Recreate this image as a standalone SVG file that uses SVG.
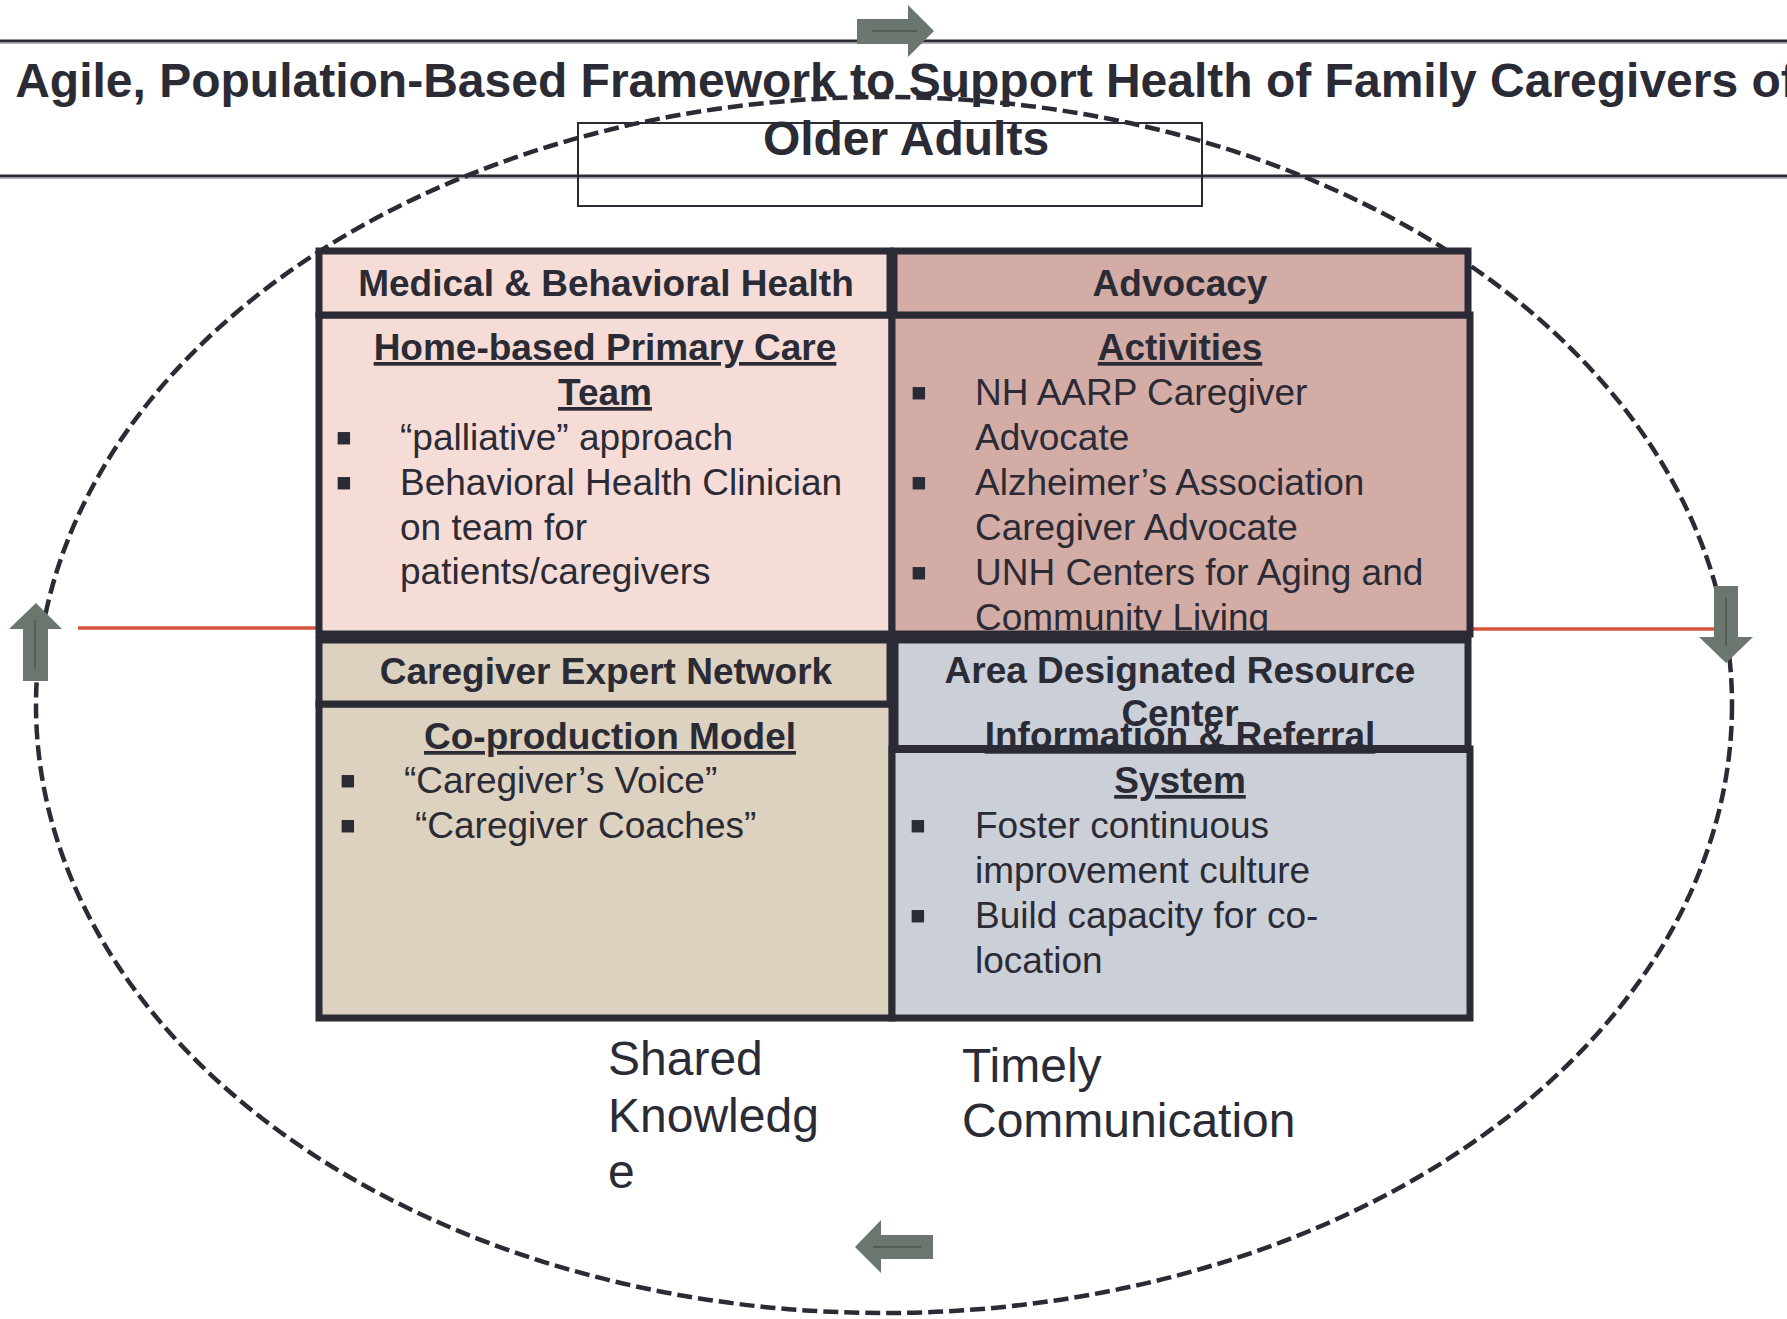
<svg xmlns="http://www.w3.org/2000/svg" width="1787" height="1319" viewBox="0 0 1787 1319">
<style>
text{font-family:"Liberation Sans",Arial,sans-serif;fill:#2b2b36}
.t{font-size:48px;font-weight:bold}
.h{font-size:37px;font-weight:bold;text-anchor:middle}
.u{text-decoration:underline}
.b{font-size:37px}
.lbl{font-size:48px}
.bul{font-size:50px}
.cell{stroke:#2b2b36;stroke-width:7}
.arr{fill:#6b776e}
.ain{stroke:#4b5650;stroke-width:1.5}
.red{stroke:#d6543a;stroke-width:3.5}
</style>
<defs>
<clipPath id="advclip"><rect x="891" y="312" width="580" height="319"/></clipPath>
</defs>
<rect width="1787" height="1319" fill="#fff"/>
<g id="title">
<line x1="0" y1="41" x2="1787" y2="41" stroke="#2b2b36" stroke-width="3"/>
<line x1="0" y1="43" x2="1787" y2="43" stroke="#9a9aa2" stroke-width="1.5"/>
<line x1="0" y1="176" x2="1787" y2="176" stroke="#2b2b36" stroke-width="3"/>
<line x1="0" y1="178" x2="1787" y2="178" stroke="#9a9aa2" stroke-width="1.5"/>
<text class="t" x="906" y="97" text-anchor="middle">Agile, Population-Based Framework to Support Health of Family Caregivers of</text>
<text class="t" x="906" y="155" text-anchor="middle">Older Adults</text>
<rect x="578" y="123" width="624" height="83" fill="none" stroke="#2b2b36" stroke-width="2"/>
</g>
<g id="connectors">
<ellipse cx="884" cy="705" rx="848" ry="608" fill="none" stroke="#2b2b36" stroke-width="4.5" stroke-dasharray="15 6"/>
<line class="red" x1="78" y1="628" x2="318" y2="628"/>
<line class="red" x1="1470" y1="629" x2="1714" y2="629"/>
<g id="arrow-top"><polygon class="arr" points="857,19 908,19 908,5 934,31 908,57 908,44 857,44"/><line class="ain" x1="872" y1="31" x2="917" y2="31"/></g>
<g id="arrow-right"><polygon class="arr" points="1714,586 1738,586 1738,637 1753,637 1726,663 1699,637 1714,637"/><line class="ain" x1="1726" y1="598" x2="1726" y2="646"/></g>
<g id="arrow-bottom"><polygon class="arr" points="933,1235 933,1259 881,1259 881,1273 855,1247 881,1220 881,1235"/><line class="ain" x1="873" y1="1247" x2="921" y2="1247"/></g>
<g id="arrow-left"><polygon class="arr" points="23,681 48,681 48,629 62,629 36,603 9,629 23,629"/><line class="ain" x1="35" y1="620" x2="35" y2="669"/></g>
</g>
<g id="medical-behavioral-health">
<rect class="cell" x="319" y="315" width="573" height="319" fill="#f6dcd7"/>
<rect class="cell" x="319" y="251" width="571" height="64" fill="#f6dcd7"/>
<text class="h" x="606" y="296">Medical &amp; Behavioral Health</text>
<text class="h u" x="605" y="360">Home-based Primary Care</text>
<text class="h u" x="605" y="405">Team</text>
<text class="bul" x="335" y="454">▪</text>
<text class="bul" x="335" y="499">▪</text>
<text class="b" x="400" y="450">“palliative” approach</text>
<text class="b" x="400" y="495">Behavioral Health Clinician</text>
<text class="b" x="400" y="540">on team for</text>
<text class="b" x="400" y="584">patients/caregivers</text>
</g>
<g id="advocacy">
<rect class="cell" x="892" y="315" width="578" height="319" fill="#d3aca6"/>
<rect class="cell" x="894" y="251" width="574" height="64" fill="#d3aca6"/>
<text class="h" x="1180" y="296">Advocacy</text>
<g clip-path="url(#advclip)">
<text class="h u" x="1180" y="360">Activities</text>
<text class="bul" x="910" y="409">▪</text>
<text class="bul" x="910" y="499">▪</text>
<text class="bul" x="910" y="589">▪</text>
<text class="b" x="975" y="405">NH AARP Caregiver</text>
<text class="b" x="975" y="450">Advocate</text>
<text class="b" x="975" y="495">Alzheimer’s Association</text>
<text class="b" x="975" y="540">Caregiver Advocate</text>
<text class="b" x="975" y="585">UNH Centers for Aging and</text>
<text class="b" x="975" y="630">Community Living</text>
</g>
</g>
<g id="caregiver-expert-network">
<rect class="cell" x="319" y="704" width="573" height="314" fill="#ddd1bf"/>
<rect class="cell" x="319" y="640" width="571" height="64" fill="#ddd1bf"/>
<text class="h" x="606" y="684">Caregiver Expert Network</text>
<text class="h u" x="610" y="749">Co-production Model</text>
<text class="bul" x="339" y="797">▪</text>
<text class="bul" x="339" y="842">▪</text>
<text class="b" x="404" y="793">“Caregiver’s Voice”</text>
<text class="b" x="415" y="838">“Caregiver Coaches”</text>
</g>
<g id="area-designated-resource-center">
<rect class="cell" x="892" y="749" width="578" height="269" fill="#cbcfd8"/>
<rect class="cell" x="895" y="640" width="573" height="109" fill="#cbcfd8"/>
<text class="h" x="1180" y="683">Area Designated Resource</text>
<text class="h" x="1180" y="726">Center</text>
<text class="h u" x="1180" y="748">Information &amp; Referral</text>
<line x1="892" y1="749" x2="1470" y2="749" stroke="#2b2b36" stroke-width="8"/>
<text class="h u" x="1180" y="793">System</text>
<text class="bul" x="909" y="842">▪</text>
<text class="bul" x="909" y="932">▪</text>
<text class="b" x="975" y="838">Foster continuous</text>
<text class="b" x="975" y="883">improvement culture</text>
<text class="b" x="975" y="928">Build capacity for co-</text>
<text class="b" x="975" y="973">location</text>
</g>
<g id="labels">
<text class="lbl" x="608" y="1075">Shared</text>
<text class="lbl" x="608" y="1132">Knowledg</text>
<text class="lbl" x="608" y="1188">e</text>
<text class="lbl" x="962" y="1082">Timely</text>
<text class="lbl" x="962" y="1137">Communication</text>
</g>
</svg>
